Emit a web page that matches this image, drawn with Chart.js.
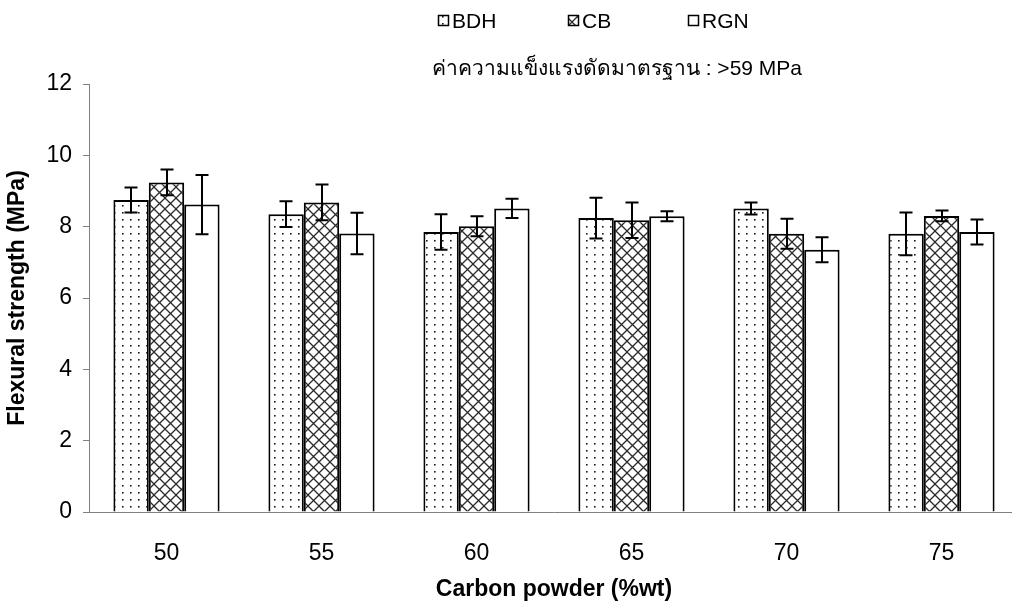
<!DOCTYPE html>
<html>
<head>
<meta charset="utf-8">
<script src="https://cdn.jsdelivr.net/npm/chart.js@4.4.1/dist/chart.umd.min.js"></script>
<style>
  html, body { margin: 0; padding: 0; background: #fff; overflow: hidden; }
  #wrap { position: relative; width: 1024px; height: 607px; }
</style>
</head>
<body>
<div id="wrap"><canvas id="c" width="1024" height="607"></canvas></div>
<script>
const categories = ['50', '55', '60', '65', '70', '75'];
const seriesNames = ['BDH', 'CB', 'RGN'];
const bdhValues = [8.75, 8.35, 7.85, 8.24, 8.51, 7.80];
const bdhErrors = [0.35, 0.36, 0.50, 0.57, 0.17, 0.60];
const cbValues  = [9.24, 8.68, 8.01, 8.18, 7.80, 8.30];
const cbErrors  = [0.36, 0.50, 0.28, 0.50, 0.42, 0.15];
const rgnValues = [8.62, 7.81, 8.51, 8.29, 7.35, 7.85];
const rgnErrors = [0.83, 0.58, 0.27, 0.14, 0.35, 0.35];
const yTicks = [0, 2, 4, 6, 8, 10, 12];
const subtitleText = 'ค่าความแข็งแรงดัดมาตรฐาน : >59 MPa';
const xTitle = 'Carbon powder (%wt)';
const yTitle = 'Flexural strength (MPa)';

const FONT = "Arial, 'Liberation Sans', 'Noto Sans', 'DejaVu Sans', sans-serif";

function makeDotPattern() {
  const c = document.createElement('canvas');
  c.width = 8; c.height = 7;
  const g = c.getContext('2d');
  g.fillStyle = '#fff'; g.fillRect(0, 0, 8, 7);
  g.fillStyle = '#1a1a1a';
  g.fillRect(2, 2, 1.6, 1.6);
  return g.createPattern(c, 'repeat');
}
function makeCrossPattern() {
  const s = 11;
  const c = document.createElement('canvas');
  c.width = s; c.height = s;
  const g = c.getContext('2d');
  g.fillStyle = '#fff'; g.fillRect(0, 0, s, s);
  g.strokeStyle = '#2a2a2a'; g.lineWidth = 1.3;
  g.beginPath();
  g.moveTo(-1, -1); g.lineTo(s + 1, s + 1);
  g.moveTo(s + 1, -1); g.lineTo(-1, s + 1);
  g.stroke();
  return g.createPattern(c, 'repeat');
}
const dotPat = makeDotPattern();
const crossPat = makeCrossPattern();

const errorMap = [bdhErrors, cbErrors, rgnErrors];

const errorBars = {
  id: 'errorBars',
  afterDatasetsDraw(chart) {
    const ctx = chart.ctx;
    const y = chart.scales.y;
    ctx.save();
    ctx.strokeStyle = '#000';
    ctx.lineWidth = 2;
    chart.data.datasets.forEach((ds, i) => {
      const meta = chart.getDatasetMeta(i);
      meta.data.forEach((bar, j) => {
        const v = ds.data[j], e = errorMap[i][j];
        const x = Math.round(bar.x);
        const yt = y.getPixelForValue(v + e);
        const yb = y.getPixelForValue(v - e);
        ctx.beginPath();
        ctx.moveTo(x, yt); ctx.lineTo(x, yb);
        ctx.moveTo(x - 6.5, yt); ctx.lineTo(x + 6.5, yt);
        ctx.moveTo(x - 6.5, yb); ctx.lineTo(x + 6.5, yb);
        ctx.stroke();
      });
    });
    ctx.restore();
  }
};

const headerPlugin = {
  id: 'header',
  afterDraw(chart) {
    const ctx = chart.ctx;
    ctx.save();
    ctx.font = '21px ' + FONT;
    ctx.textBaseline = 'alphabetic';
    const boxX = [438, 568, 688];
    const pats = [dotPat, crossPat, '#fff'];
    seriesNames.forEach((n, i) => {
      const bx = boxX[i], by = 15;
      ctx.fillStyle = '#fff';
      ctx.fillRect(bx, by, 11, 11);
      ctx.fillStyle = pats[i];
      ctx.fillRect(bx, by, 11, 11);
      ctx.strokeStyle = '#000';
      ctx.lineWidth = 1.5;
      ctx.strokeRect(bx + 0.5, by + 0.5, 10, 10);
      ctx.fillStyle = '#000';
      ctx.textAlign = 'left';
      ctx.fillText(n, bx + 14, 28);
    });
    ctx.textAlign = 'right';
    ctx.fillText(subtitleText, 802, 75);
    ctx.restore();
  }
};

new Chart(document.getElementById('c'), {
  type: 'bar',
  data: {
    labels: categories,
    datasets: [
      { label: seriesNames[0], data: bdhValues, backgroundColor: dotPat, borderColor: '#000', borderWidth: 2 },
      { label: seriesNames[1], data: cbValues, backgroundColor: crossPat, borderColor: '#000', borderWidth: 2 },
      { label: seriesNames[2], data: rgnValues, backgroundColor: '#fff', borderColor: '#000', borderWidth: 2 }
    ]
  },
  options: {
    responsive: false,
    animation: false,
    layout: { padding: { top: 84, right: 5, left: 0, bottom: 0 } },
    plugins: {
      legend: { display: false },
      tooltip: { enabled: false },
      title: { display: false }
    },
    datasets: { bar: { categoryPercentage: 0.685, barPercentage: 1.0 } },
    scales: {
      x: {
        grid: { display: false },
        border: { display: true, color: '#808080', width: 1 },
        ticks: { color: '#000', font: { size: 23, family: FONT }, padding: 20, maxRotation: 0 },
        title: { display: true, text: xTitle, color: '#000', font: { size: 23, weight: 'bold', family: FONT }, padding: { top: 0, bottom: 4 } },
        afterFit(s) { s.height = 95; }
      },
      y: {
        min: 0, max: 12,
        afterBuildTicks(s) { s.ticks = yTicks.map(v => ({ value: v })); },
        grid: { display: true, drawOnChartArea: false, drawTicks: true, tickLength: 6, color: '#808080' },
        border: { display: true, color: '#808080', width: 1 },
        ticks: { color: '#000', font: { size: 23, family: FONT }, padding: 11 },
        title: { display: true, text: yTitle, color: '#000', font: { size: 23, weight: 'bold', family: FONT }, padding: { top: 4, bottom: 0 } },
        afterFit(s) { s.width = 89; }
      }
    }
  },
  plugins: [errorBars, headerPlugin]
});
</script>
</body>
</html>
